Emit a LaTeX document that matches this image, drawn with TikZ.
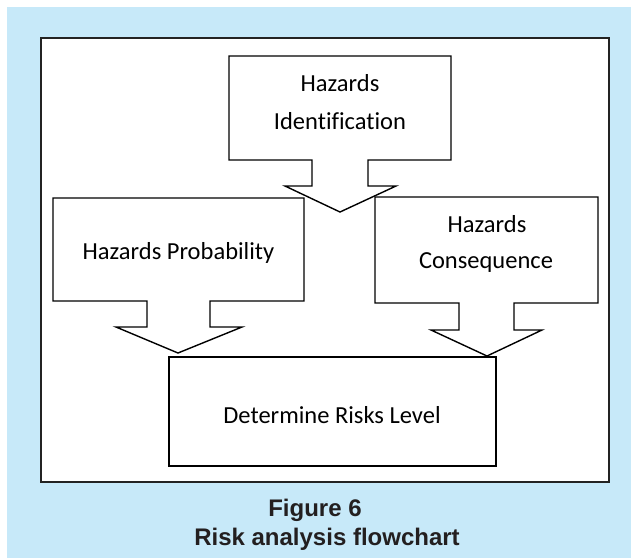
\documentclass[tikz,border=0pt]{standalone}
\usepackage{fontspec}
\setmainfont{Carlito}[Ligatures={NoCommon,NoContextual}]
\newfontfamily\capfont{Liberation Sans}
\definecolor{bgblue}{RGB}{199,233,249}
\definecolor{framegray}{RGB}{35,35,35}
\definecolor{captext}{RGB}{35,31,32}
\tikzset{
  callout/.style={draw=black, fill=white, line width=1.4pt, line join=miter},
  boxtext/.style={font=\fontsize{24.5}{28}\selectfont, anchor=base, inner sep=0pt},
  captiontext/.style={font=\capfont\bfseries\fontsize{24}{28}\selectfont, text=captext, anchor=base, inner sep=0pt},
  resultbox/.style={draw=black, fill=white, line width=2.4pt, rectangle, inner sep=0pt}
}
\begin{document}
\begin{tikzpicture}[x=1pt,y=-1pt]
\useasboundingbox (0,0) rectangle (631,558);
% background
\fill[bgblue] (7,7) rectangle (631,558);
\draw[framegray, fill=white, line width=2.5pt] (41,38) rectangle (609,482);

% left callout: Hazards Probability
\draw[callout] (53,198) -- (304,198) -- (304,301) -- (210,301) -- (210,327) -- (242,327)
  -- (178,353) -- (116,327) -- (147,327) -- (147,301) -- (53,301) -- cycle;
% right callout: Hazards Consequence
\draw[callout] (375,197) -- (598,197) -- (598,303) -- (514,303) -- (514,330) -- (542,330)
  -- (487,356) -- (431,330) -- (459,330) -- (459,303) -- (375,303) -- cycle;
% top callout: Hazards Identification
\draw[callout] (229,56) -- (451,56) -- (451,160) -- (368,160) -- (368,186) -- (396,186)
  -- (340,212) -- (285,186) -- (312,186) -- (312,160) -- (229,160) -- cycle;

% result box
\node[resultbox, minimum width=327pt, minimum height=109pt] (level) at (332.5,411.5) {};
\node[boxtext] (leveltxt) at (332,423) {Determine Risks Level};

% texts
\node[boxtext] (idA) at (340,91) {Hazards};
\node[boxtext] (idB) at (340,129) {Identification};
\node[boxtext] (prob) at (178.5,259) {Hazards Probability};
\node[boxtext] (conA) at (487,232) {Hazards};
\node[boxtext] (conB) at (486,268) {Consequence};

% caption
\node[captiontext] (figno) at (315,516) {Figure 6};
\node[captiontext] (figtitle) at (327,545) {Risk analysis flowchart};
\end{tikzpicture}
\end{document}
